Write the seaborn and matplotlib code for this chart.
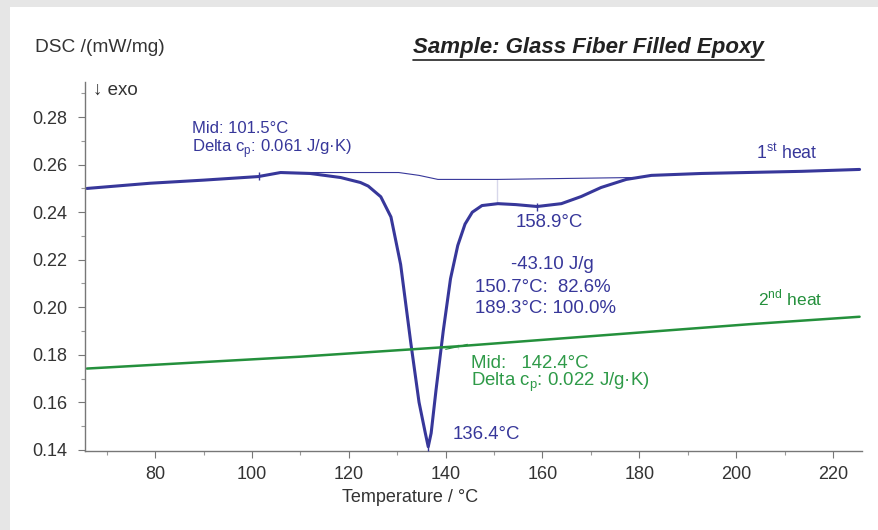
import numpy as np
import pandas as pd
import seaborn as sns
import matplotlib.pyplot as plt
from matplotlib.lines import Line2D
from matplotlib.patches import Rectangle

# values
heat1_temp = [65.9, 79.0, 90.0, 101.3, 105.9, 112.0, 118.3, 122.4, 124.0, 126.6, 128.7, 130.7,
              132.8, 134.5, 135.8, 136.4, 137.0, 138.0, 139.5, 141.0, 142.5, 144.0, 145.5, 147.5,
              150.8, 154.5, 158.9, 163.9, 168.0, 172.1, 177.3, 182.5, 192.8, 213.5, 225.5]
heat1_dsc = [0.2500, 0.2522, 0.2535, 0.2550, 0.2567, 0.2563, 0.2546, 0.2525, 0.2510, 0.2465, 0.2380, 0.2180,
             0.1850, 0.1600, 0.1470, 0.1413, 0.1470, 0.1650, 0.1900, 0.2120, 0.2260, 0.2350, 0.2400, 0.2428,
             0.2436, 0.2432, 0.2424, 0.2436, 0.2466, 0.2504, 0.2538, 0.2555, 0.2563, 0.2572, 0.2580]

base_temp = [106.0, 130.3, 134.5, 138.4, 150.7, 178.8]
base_dsc = [0.2567, 0.2567, 0.2555, 0.2538, 0.2538, 0.2546]
split_temp = [150.7, 150.7]
split_dsc = [0.2538, 0.2436]

heat2_temp = [65.9, 110.0, 142.0, 203.0, 225.5]
heat2_dsc = [0.1742, 0.1792, 0.1835, 0.1929, 0.1960]
step_temp = [140.0, 142.5, 142.5, 144.5]
step_dsc = [0.1823, 0.1823, 0.1844, 0.1844]

mark_temp = [101.5, 158.9, 136.4]
mark_dsc = [0.2552, 0.2424, 0.1413]

x_ticks = [80, 100, 120, 140, 160, 180, 200, 220]
y_ticks = [0.14, 0.16, 0.18, 0.20, 0.22, 0.24, 0.26, 0.28]

navy = '#37379a'
green = '#24903c'
text_green = '#2e9a48'

sns.set_theme(style='ticks')
plt.rcParams['font.family'] = ['Liberation Sans', 'DejaVu Sans']
plt.rcParams['mathtext.fontset'] = 'custom'
plt.rcParams['mathtext.rm'] = 'Liberation Sans'

fig = plt.figure(figsize=(8.79, 5.30), dpi=100)
fig.patch.set_facecolor('white')
# grey frame strips at top and left
fig.add_artist(Rectangle((0, 0), 10 / 879, 1, transform=fig.transFigure, color='#e6e6e6', lw=0))
fig.add_artist(Rectangle((0, 1 - 7 / 530), 1, 7 / 530, transform=fig.transFigure, color='#e6e6e6', lw=0))

ax = fig.add_axes([85 / 879, 1 - 451 / 530, (862 - 85) / 879, (451 - 82) / 530])

h1 = pd.DataFrame({'T': heat1_temp, 'DSC': heat1_dsc})
h2 = pd.DataFrame({'T': heat2_temp, 'DSC': heat2_dsc})
sns.lineplot(data=h1, x='T', y='DSC', ax=ax, color=navy, lw=2.2, sort=False)
sns.lineplot(data=h2, x='T', y='DSC', ax=ax, color=green, lw=1.8, sort=False)
sns.lineplot(x=base_temp, y=base_dsc, ax=ax, color=navy, lw=0.8, sort=False)
sns.lineplot(x=split_temp, y=split_dsc, ax=ax, color=navy, lw=0.9, sort=False)
sns.lineplot(x=step_temp, y=step_dsc, ax=ax, color=green, lw=0.8, sort=False)
ax.scatter(mark_temp, mark_dsc, marker='|', s=30, color=navy, lw=1, zorder=3)

ax.set_xlim(65.5, 226)
ax.set_ylim(0.1395, 0.2948)
ax.set_xticks(x_ticks)
ax.set_yticks(y_ticks)
ax.set_xticks(np.arange(70, 226, 10), minor=True)
ax.set_yticks(np.arange(0.14, 0.295, 0.01), minor=True)
ax.set_yticklabels([f'{v:.2f}' for v in y_ticks])
ax.set_xlabel('')
ax.set_ylabel('')
for s in ['top', 'right']:
    ax.spines[s].set_visible(False)
for s in ['left', 'bottom']:
    ax.spines[s].set_color('#777777')
    ax.spines[s].set_linewidth(1.0)
ax.tick_params(which='major', length=5, width=0.8, color='#777777', labelsize=13, labelcolor='#333333')
ax.tick_params(which='minor', length=3, width=0.8, color='#999999')
ax.tick_params(axis='y', pad=8)
ax.tick_params(axis='x', pad=6)

# annotations
fs = 13.4
ax.text(87.7, 0.2753, 'Mid: 101.5°C', color=navy, fontsize=12, va='center')
ax.text(87.7, 0.2669, r'Delta c$_\mathrm{p}$: 0.061 J/g·K)', color=navy, fontsize=12, va='center')
ax.text(204.2, 0.2648, r'1$^\mathrm{st}$ heat', color=navy, fontsize=12.8, va='center')
ax.text(154.5, 0.2356, '158.9°C', color=navy, fontsize=fs, va='center')
ax.text(153.5, 0.2178, '-43.10 J/g', color=navy, fontsize=fs, va='center')
ax.text(146.0, 0.2085, '150.7°C:  82.6%', color=navy, fontsize=fs, va='center')
ax.text(146.0, 0.1996, '189.3°C: 100.0%', color=navy, fontsize=fs, va='center')
ax.text(204.6, 0.2039, r'2$^\mathrm{nd}$ heat', color=green, fontsize=12.5, va='center')
ax.text(145.2, 0.1764, 'Mid:   142.4°C', color=text_green, fontsize=fs, va='center')
ax.text(145.2, 0.1683, r'Delta c$_\mathrm{p}$: 0.022 J/g·K)', color=text_green, fontsize=fs, va='center')
ax.text(141.5, 0.1463, '136.4°C', color=navy, fontsize=fs, va='center')

fig.text(35 / 879, 1 - 48 / 530, 'DSC /(mW/mg)', fontsize=13.8, color='#333333', va='center')
fig.text(93 / 879, 1 - 90 / 530, '↓ exo', fontsize=13.5, color='#333333', va='center',
         family=['Liberation Sans', 'DejaVu Sans'])
fig.text(410 / 879, 1 - 497 / 530, 'Temperature / °C', fontsize=13, color='#333333', ha='center', va='center')
title = fig.text(413 / 879, 1 - 48 / 530, 'Sample: Glass Fiber Filled Epoxy', fontsize=16,
                 fontweight='bold', fontstyle='italic', color='#222222', va='center')

# underline the title
fig.canvas.draw()
bb = title.get_window_extent().transformed(fig.transFigure.inverted())
fig.add_artist(Line2D([bb.x0, bb.x1], [bb.y0 - 0.002, bb.y0 - 0.002], transform=fig.transFigure,
                      color='#222222', lw=1.2))

fig.savefig('out.png', dpi=100)
